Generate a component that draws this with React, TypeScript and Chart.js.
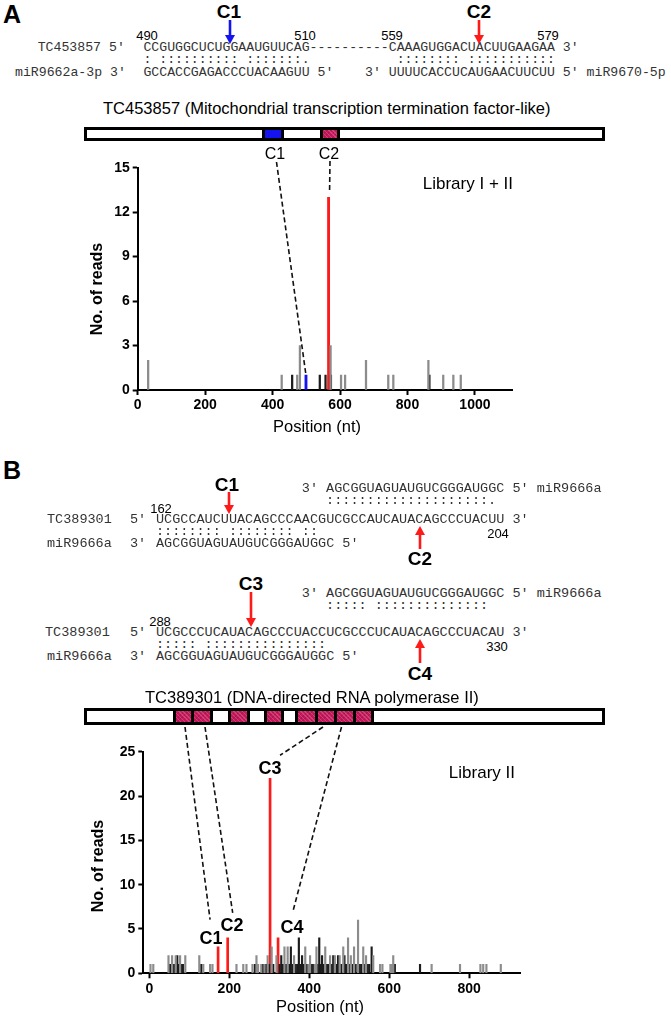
import React, { useEffect, useRef } from "react";
import { Chart, registerables } from "chart.js";
Chart.register(...registerables);

// ---------------- DATA ----------------
// Panel A (Library I + II), TC453857
const aGrayX = [31, 427, 473, 481, 572, 603, 615, 677, 743, 758, 862, 906, 936, 958];
const aGrayY = [2, 1, 1, 3, 3, 1, 1, 2, 1, 1, 2, 1, 1, 1];
const aDarkX = [458, 540, 557, 573, 865];
const aDarkY = [1, 1, 1, 1, 1];
const aRedX = [566];
const aRedY = [13];
const aBlueX = [499];
const aBlueY = [1];
const aXTicks = [0, 200, 400, 600, 800, 1000];
const aYTicks = [0, 3, 6, 9, 12, 15];

// Panel B (Library II), TC389301
const bGrayX = [3, 10, 48, 57, 66, 77, 90, 125, 135, 152, 158, 218, 235, 243, 258, 268, 272, 280, 288, 296,
  306, 318, 338, 346, 362, 390, 398, 402, 414, 418, 440, 452, 464, 476, 485, 497, 504, 512, 522, 535, 542, 560,
  577, 583, 603, 607, 610, 706, 777, 828, 835, 843, 879];
const bGrayY = [1, 1, 2, 2, 2, 2, 2, 2, 1, 1, 1, 1, 1, 1, 1, 2, 1, 1, 1, 2,
  3, 2, 3, 3, 2, 3, 1, 2, 1, 3, 3, 2, 2, 2, 3, 4, 2, 3, 6, 3, 2, 2,
  1, 1, 1, 1, 2, 1, 1, 1, 1, 1, 1];
const bDarkX = [52, 62, 70, 73, 80, 84, 130, 264, 284, 292, 300, 310, 326, 330, 334, 342, 350, 354, 358, 366,
  370, 374, 378, 382, 386, 394, 406, 410, 421, 425, 428, 432, 436, 444, 448, 456, 460, 468, 472, 480, 488, 492,
  500, 508, 516, 526, 530, 538, 546, 550, 556, 614, 677];
const bDarkY = [1, 1, 2, 1, 1, 1, 1, 1, 1, 1, 1, 1, 1, 2, 1, 1, 1, 3, 1, 1,
  1, 4, 1, 2, 1, 1, 1, 1, 1, 4, 1, 2, 1, 1, 1, 1, 2, 1, 2, 1, 2, 1,
  1, 1, 1, 1, 1, 1, 1, 1, 3, 1, 1];
const bRedX = [172, 196, 302, 322];
const bRedY = [3, 4, 22, 4];
const bXTicks = [0, 200, 400, 600, 800];
const bYTicks = [0, 5, 10, 15, 20, 25];

// ---------------- STYLE / LAYOUT ----------------
const SANS = "'Liberation Sans', Arial, sans-serif";
const MONO = "'Liberation Mono', 'Courier New', monospace";
const GRAY = "#8c8c8c";
const DARK = "#1c1c1c";
const RED = "#ff1a1a";
const BLUE = "#1414f0";
const PINK = "#c8185c";

const A_TOP = 120, A_H = 330;
const B_TOP = 695, B_H = 323;

type Conn = { from: [number, number]; x: number; y: number; dx: number; dy: number };
const aConnectors: Conn[] = [
  { from: [276.5, 162], x: 499, y: 1, dx: 0, dy: 0 },
  { from: [330, 161], x: 566, y: 13, dx: 1, dy: -6 },
];
const bConnectors: Conn[] = [
  { from: [185, 727], x: 172, y: 3, dx: -8, dy: -27 },
  { from: [205, 727], x: 196, y: 4, dx: 5, dy: -25 },
  { from: [323, 727], x: 302, y: 22, dx: 10, dy: -23 },
  { from: [341.5, 727], x: 322, y: 4, dx: 15, dy: -27 },
];

function pts(xs: number[], ys: number[]) {
  return xs.map((x, i) => ({ x, y: ys[i] }));
}

function ds(xs: number[], ys: number[], color: string, w: number) {
  return {
    data: pts(xs, ys),
    backgroundColor: color,
    borderWidth: 0,
    barThickness: w,
    grouped: false,
  } as any;
}

function connectorPlugin(list: Conn[], top: number) {
  return {
    id: "connectors",
    afterDraw(chart: any) {
      const ctx = chart.ctx;
      const xs = chart.scales.x, ys = chart.scales.y;
      ctx.save();
      ctx.strokeStyle = "#111";
      ctx.lineWidth = 1.6;
      ctx.setLineDash([5, 3]);
      list.forEach((c) => {
        ctx.beginPath();
        ctx.moveTo(c.from[0], c.from[1] - top);
        ctx.lineTo(xs.getPixelForValue(c.x) + c.dx, ys.getPixelForValue(c.y) + c.dy);
        ctx.stroke();
      });
      ctx.restore();
    },
  };
}

function makeOptions(p: {
  xmin: number; xmax: number; ymax: number; xt: number[]; yt: number[];
  padR: number; padT: number; padB: number; yW: number;
}) {
  const tickFont = { family: SANS, size: 14, weight: "bold" as const };
  const grid = { display: true, drawOnChartArea: false, drawTicks: true, tickLength: 5, tickWidth: 2, tickColor: "#000", offset: false };
  const border = { display: true, color: "#000", width: 2 };
  const plain = (v: any) => String(v);
  return {
    animation: false,
    responsive: false,
    maintainAspectRatio: false,
    layout: { padding: { left: 0, right: p.padR, top: p.padT, bottom: p.padB } },
    plugins: { legend: { display: false }, tooltip: { enabled: false } },
    scales: {
      x: {
        type: "linear", min: p.xmin, max: p.xmax, offset: false,
        grid, border,
        ticks: { font: tickFont, color: "#000", padding: 2, maxRotation: 0, autoSkip: false, includeBounds: false, callback: plain },
        afterBuildTicks: (s: any) => { s.ticks = p.xt.map((v) => ({ value: v })); },
        afterFit: (s: any) => { s.height = 30; },
      },
      y: {
        type: "linear", min: 0, max: p.ymax,
        grid, border,
        ticks: { font: tickFont, color: "#000", padding: 3, autoSkip: false, includeBounds: false, callback: plain },
        afterBuildTicks: (s: any) => { s.ticks = p.yt.map((v) => ({ value: v })); },
        afterFit: (s: any) => { s.width = p.yW; },
      },
    },
  } as any;
}

// ---------------- HTML helpers ----------------
function T(props: {
  x: number; y: number; children: React.ReactNode; size?: number; bold?: boolean;
  anchor?: "c" | "l" | "r"; font?: string; color?: string; rotate?: boolean;
}) {
  const { x, y, children, size = 13, bold = false, anchor = "c", font = SANS, color = "#000", rotate = false } = props;
  const tx = anchor === "c" ? "-50%" : anchor === "l" ? "0" : "-100%";
  return (
    <div
      style={{
        position: "absolute", left: x, top: y, whiteSpace: "pre", lineHeight: 1,
        fontSize: size, fontWeight: bold ? "bold" : "normal", fontFamily: font, color,
        transform: `translate(${tx}, -50%)${rotate ? " rotate(-90deg)" : ""}`,
        transformOrigin: rotate ? "center center" : undefined,
      }}
    >
      {children}
    </div>
  );
}

function Box(props: { l: number; r: number; t: number; b: number; bg: string; bw?: number; hatch?: boolean }) {
  const { l, r, t, b, bg, bw = 3, hatch } = props;
  return (
    <div
      style={{
        position: "absolute", left: l, top: t, width: r - l, height: b - t, boxSizing: "border-box",
        border: `${bw}px solid #000`, backgroundColor: bg,
        backgroundImage: hatch
          ? "repeating-linear-gradient(45deg, rgba(255,255,255,0.18) 0 1px, transparent 1px 3px), repeating-linear-gradient(-45deg, rgba(0,0,0,0.12) 0 1px, transparent 1px 3px)"
          : undefined,
      }}
    />
  );
}

function Arrow({ x, tail, tip, color }: { x: number; tail: number; tip: number; color: string }) {
  const dir = tip > tail ? 1 : -1;
  const hl = 9, hw = 5;
  return (
    <g>
      <line x1={x} y1={tail} x2={x} y2={tip - dir * hl} stroke={color} strokeWidth={2.6} />
      <polygon points={`${x - hw},${tip - dir * hl} ${x + hw},${tip - dir * hl} ${x},${tip}`} fill={color} />
    </g>
  );
}

// sequence layout
const A_X0 = 143.4, A_FS = 13.2;
const B_X0 = 156, B_FS = 13.5, B_CW = B_FS * 0.6;

export default function App() {
  const aRef = useRef<HTMLCanvasElement>(null);
  const bRef = useRef<HTMLCanvasElement>(null);

  useEffect(() => {
    document.body.style.margin = "0";
    const chA = new Chart(aRef.current as HTMLCanvasElement, {
      type: "bar",
      data: {
        datasets: [
          ds(aGrayX, aGrayY, GRAY, 1.6),
          ds(aDarkX, aDarkY, DARK, 1.6),
          ds(aRedX, aRedY, RED, 2.2),
          ds(aBlueX, aBlueY, BLUE, 2.2),
        ],
      },
      options: makeOptions({
        xmin: 0, xmax: 1112, ymax: 15, xt: aXTicks, yt: aYTicks,
        padR: 671 - 512.7, padT: 167.7 - A_TOP, padB: A_H - (390 - A_TOP) - 30, yW: 137.7,
      }),
      plugins: [connectorPlugin(aConnectors, A_TOP)],
    } as any);
    const chB = new Chart(bRef.current as HTMLCanvasElement, {
      type: "bar",
      data: {
        datasets: [
          ds(bGrayX, bGrayY, GRAY, 1.5),
          ds(bDarkX, bDarkY, DARK, 1.5),
          ds(bRedX, bRedY, RED, 2),
        ],
      },
      options: makeOptions({
        xmin: -15, xmax: 927, ymax: 25, xt: bXTicks, yt: bYTicks,
        padR: 671 - 520, padT: 751.7 - B_TOP, padB: B_H - (973.3 - B_TOP) - 30, yW: 143.3,
      }),
      plugins: [connectorPlugin(bConnectors, B_TOP)],
    } as any);
    return () => {
      chA.destroy();
      chB.destroy();
    };
  }, []);

  const monoA = { font: MONO, size: A_FS, color: "#333", anchor: "l" as const };
  const monoB = { font: MONO, size: B_FS, color: "#333", anchor: "l" as const };
  const bx = (col: number) => B_X0 + col * B_CW;

  return (
    <div style={{ position: "absolute", left: 0, top: 0, width: 671, height: 1018, background: "#fff", overflow: "hidden" }}>
      <canvas ref={aRef} width={671} height={A_H} style={{ position: "absolute", left: 0, top: A_TOP, width: 671, height: A_H }} />
      <canvas ref={bRef} width={671} height={B_H} style={{ position: "absolute", left: 0, top: B_TOP, width: 671, height: B_H }} />

      {/* ---------- Panel A ---------- */}
      <T x={3} y={14} size={25} bold anchor="l">A</T>
      <T x={229} y={11} size={19} bold>C1</T>
      <T x={479} y={11} size={19} bold>C2</T>
      <T x={147} y={35} size={13}>490</T>
      <T x={305} y={35} size={13}>510</T>
      <T x={392} y={35} size={13}>559</T>
      <T x={548} y={35} size={13}>579</T>
      <T x={37.7} y={48} {...monoA}>TC453857</T>
      <T x={109} y={48} {...monoA}>5'</T>
      <T x={A_X0} y={48} {...monoA}>{"CCGUGGCUCUGGAAUGUUCAG----------CAAAGUGGACUACUUGAAGAA 3'"}</T>
      <T x={A_X0} y={60} {...monoA}>{": :::::::::: :::::::.           :::::::: :::::::::::"}</T>
      <T x={15} y={73} {...monoA}>miR9662a-3p</T>
      <T x={110} y={73} {...monoA}>3'</T>
      <T x={A_X0} y={73} {...monoA}>{"GCCACCGAGACCCUACAAGUU 5'    3' UUUUCACCUCAUGAACUUCUU 5' miR9670-5p"}</T>
      <T x={103} y={108} size={16.5} anchor="l">TC453857 (Mitochondrial transcription termination factor-like)</T>
      <Box l={84} r={605} t={127} b={141} bg="#fff" />
      <Box l={262} r={284} t={127} b={141} bg={BLUE} />
      <Box l={320} r={340} t={127} b={141} bg={PINK} hatch />
      <T x={275} y={154} size={16}>C1</T>
      <T x={329} y={154} size={16}>C2</T>
      <T x={513} y={183} size={17} anchor="r">Library I + II</T>
      <T x={97} y={289} size={16} bold rotate>No. of reads</T>
      <T x={317} y={426} size={16.5}>Position (nt)</T>

      {/* ---------- Panel B ---------- */}
      <T x={3} y={470} size={25} bold anchor="l">B</T>
      {/* block 1 */}
      <T x={227} y={484} size={19} bold>C1</T>
      <T x={bx(18)} y={489} {...monoB}>{"3' AGCGGUAGUAUGUCGGGAUGGC 5' miR9666a"}</T>
      <T x={bx(21)} y={501} {...monoB}>{"::::::::::::::::::::."}</T>
      <T x={161} y={508} size={13}>162</T>
      <T x={47} y={520} {...monoB}>TC389301</T>
      <T x={130} y={520} {...monoB}>5'</T>
      <T x={B_X0} y={520} {...monoB}>{"UCGCCAUCUUACAGCCCAACGUCGCCAUCAUACAGCCCUACUU 3'"}</T>
      <T x={498} y={533} size={13}>204</T>
      <T x={B_X0} y={532} {...monoB}>{":::::::: :::::::: ::"}</T>
      <T x={47} y={544} {...monoB}>miR9666a</T>
      <T x={130} y={544} {...monoB}>3'</T>
      <T x={B_X0} y={544} {...monoB}>{"AGCGGUAGUAUGUCGGGAUGGC 5'"}</T>
      <T x={420} y={558} size={19} bold>C2</T>
      {/* block 2 */}
      <T x={251} y={583} size={19} bold>C3</T>
      <T x={bx(18)} y={594} {...monoB}>{"3' AGCGGUAGUAUGUCGGGAUGGC 5' miR9666a"}</T>
      <T x={bx(21)} y={606} {...monoB}>{"::::: ::::::::::::::"}</T>
      <T x={160} y={621} size={13}>288</T>
      <T x={45} y={633} {...monoB}>TC389301</T>
      <T x={130} y={633} {...monoB}>5'</T>
      <T x={B_X0} y={633} {...monoB}>{"UCGCCCUCAUACAGCCCUACCUCGCCCUCAUACAGCCCUACAU 3'"}</T>
      <T x={497} y={646} size={13}>330</T>
      <T x={B_X0} y={645} {...monoB}>{"::::: :::::::::::::::"}</T>
      <T x={47} y={657} {...monoB}>miR9666a</T>
      <T x={130} y={657} {...monoB}>3'</T>
      <T x={B_X0} y={657} {...monoB}>{"AGCGGUAGUAUGUCGGGAUGGC 5'"}</T>
      <T x={420} y={673} size={19} bold>C4</T>

      <T x={145} y={697} size={16.5} anchor="l">TC389301 (DNA-directed RNA polymerase II)</T>
      <Box l={84} r={605} t={708} b={725} bg="#fff" />
      <Box l={173} r={194} t={708} b={725} bg={PINK} hatch />
      <Box l={191} r={213} t={708} b={725} bg={PINK} hatch />
      <Box l={210} r={231} t={708} b={725} bg="#fff" />
      <Box l={228} r={250} t={708} b={725} bg={PINK} hatch />
      <Box l={247} r={267} t={708} b={725} bg="#fff" />
      <Box l={264} r={284} t={708} b={725} bg={PINK} hatch />
      <Box l={281} r={298} t={708} b={725} bg="#fff" />
      <Box l={295} r={318} t={708} b={725} bg={PINK} hatch />
      <Box l={315} r={337} t={708} b={725} bg={PINK} hatch />
      <Box l={334} r={356} t={708} b={725} bg={PINK} hatch />
      <Box l={353} r={374} t={708} b={725} bg={PINK} hatch />

      <T x={270} y={768} size={18} bold>C3</T>
      <T x={211} y={938} size={18} bold>C1</T>
      <T x={232} y={925} size={18} bold>C2</T>
      <T x={292} y={927} size={18} bold>C4</T>
      <T x={515} y={772} size={17} anchor="r">Library II</T>
      <T x={98} y={866} size={16} bold rotate>No. of reads</T>
      <T x={320} y={1006} size={16.5}>Position (nt)</T>

      <svg width={671} height={1018} style={{ position: "absolute", left: 0, top: 0, pointerEvents: "none" }}>
        <Arrow x={230} tail={20} tip={44} color={BLUE} />
        <Arrow x={479} tail={20} tip={44} color={RED} />
        <Arrow x={229} tail={492} tip={514} color={RED} />
        <Arrow x={420} tail={549} tip={526} color={RED} />
        <Arrow x={251} tail={592} tip={627} color={RED} />
        <Arrow x={420} tail={663} tip={639} color={RED} />
      </svg>
    </div>
  );
}
